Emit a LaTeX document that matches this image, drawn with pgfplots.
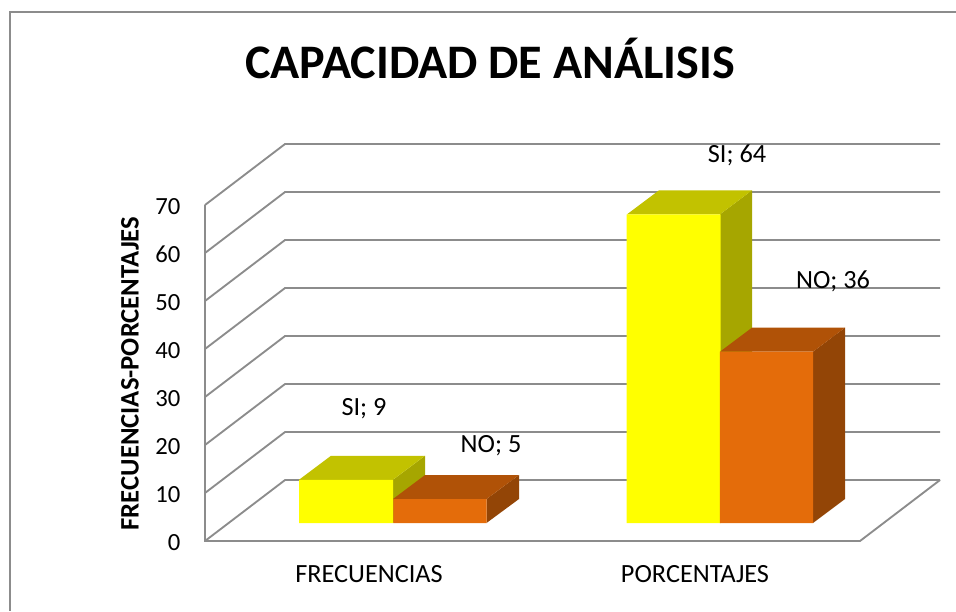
\documentclass[border=0pt]{standalone}
\usepackage{fontspec}
\setmainfont{Carlito}
\usepackage{pgfplots}
\pgfplotsset{compat=1.18}
\definecolor{wall}{HTML}{8C8C8C}
\definecolor{siF}{HTML}{FFFF00}
\definecolor{siT}{HTML}{C2C200}
\definecolor{siS}{HTML}{A6A600}
\definecolor{noF}{HTML}{E46C0A}
\definecolor{noT}{HTML}{B05207}
\definecolor{noS}{HTML}{934506}
\begin{document}
\begin{tikzpicture}
\path[use as bounding box] (-153.75pt,-52.5pt) rectangle ++(717pt,458.25pt);
\begin{axis}[
  scale only axis, x=0.75pt, y=3.6pt,
  xmin=205, xmax=940, ymin=0, ymax=82.7,
  clip=false,
  axis line style={draw=none},
  major tick length=0pt,
  /pgf/number format/assume math mode=true,
  ytick={0,10,...,70},
  xtick={369,695},
  xticklabels={FRECUENCIAS,PORCENTAJES},
  y tick label style={font=\fontsize{18.5}{22}\selectfont, xshift=-15pt, yshift=-1.2pt},
  x tick label style={font=\fontsize{19.7}{23}\selectfont, anchor=base, yshift=-31pt},
]
% frame
\addplot[wall, line width=1.4pt] coordinates {(10,-14.58)(10,110.2)(956,110.2)};
% walls and floor
\addplot[wall, line width=1.4pt] coordinates {(205,70)(205,0)(860,0)(940,12.7)};
\addplot[wall, line width=1.4pt] coordinates {(205,0)(285,12.7)(940,12.7)};
\addplot[wall, line width=1.4pt] coordinates {(205,10)(285,22.7)(940,22.7)};
\addplot[wall, line width=1.4pt] coordinates {(205,20)(285,32.7)(940,32.7)};
\addplot[wall, line width=1.4pt] coordinates {(205,30)(285,42.7)(940,42.7)};
\addplot[wall, line width=1.4pt] coordinates {(205,40)(285,52.7)(940,52.7)};
\addplot[wall, line width=1.4pt] coordinates {(205,50)(285,62.7)(940,62.7)};
\addplot[wall, line width=1.4pt] coordinates {(205,60)(285,72.7)(940,72.7)};
\addplot[wall, line width=1.4pt] coordinates {(205,70)(285,82.7)(940,82.7)};
% SI side and top faces
\addplot[fill=siS, draw=none] coordinates {(393,3.75)(425,8.75)(425,17.75)(393,12.75)} --cycle;
\addplot[fill=siT, draw=none] coordinates {(299,12.75)(393,12.75)(425,17.75)(331,17.75)} --cycle;
\addplot[fill=siS, draw=none] coordinates {(720,3.75)(752,8.75)(752,73.05)(720,68.05)} --cycle;
\addplot[fill=siT, draw=none] coordinates {(627,68.05)(720,68.05)(752,73.05)(659,73.05)} --cycle;
% SI front faces
\addplot[ybar, bar width=70.5pt, bar shift=0pt, fill=siF, draw=none, shift={(0pt,13.5pt)}]
  coordinates {(346,9)(673.5,64.3)};
% NO side and top faces
\addplot[fill=noS, draw=none] coordinates {(486.5,3.75)(519,8.75)(519,13.75)(486.5,8.75)} --cycle;
\addplot[fill=noT, draw=none] coordinates {(393,8.75)(486.5,8.75)(519,13.75)(425,13.75)} --cycle;
\addplot[fill=noS, draw=none] coordinates {(813,3.75)(845,8.75)(845,44.45)(813,39.45)} --cycle;
\addplot[fill=noT, draw=none] coordinates {(720,39.45)(813,39.45)(845,44.45)(752,44.45)} --cycle;
% NO front faces
\addplot[ybar, bar width=70pt, bar shift=0pt, fill=noF, draw=none, shift={(0pt,13.5pt)}]
  coordinates {(440,5)(766.5,35.7)};
% data labels
\node[font=\fontsize{19.7}{23}\selectfont] at (axis cs:364,27.5) {SI; 9};
\node[font=\fontsize{19.7}{23}\selectfont] at (axis cs:491,19.8) {NO; 5};
\node[font=\fontsize{19.7}{23}\selectfont] at (axis cs:737,80.3) {SI; 64};
\node[font=\fontsize{19.7}{23}\selectfont] at (axis cs:833,54.1) {NO; 36};
% title and axis title
\node[font=\fontsize{36.1}{43}\selectfont\bfseries] at (axis cs:490,100.6) {CAPACIDAD DE ANÁLISIS};
\node[font=\fontsize{20}{24}\selectfont\bfseries, rotate=90] at (axis cs:130,34.9) {FRECUENCIAS-PORCENTAJES};
\end{axis}
\end{tikzpicture}
\end{document}
